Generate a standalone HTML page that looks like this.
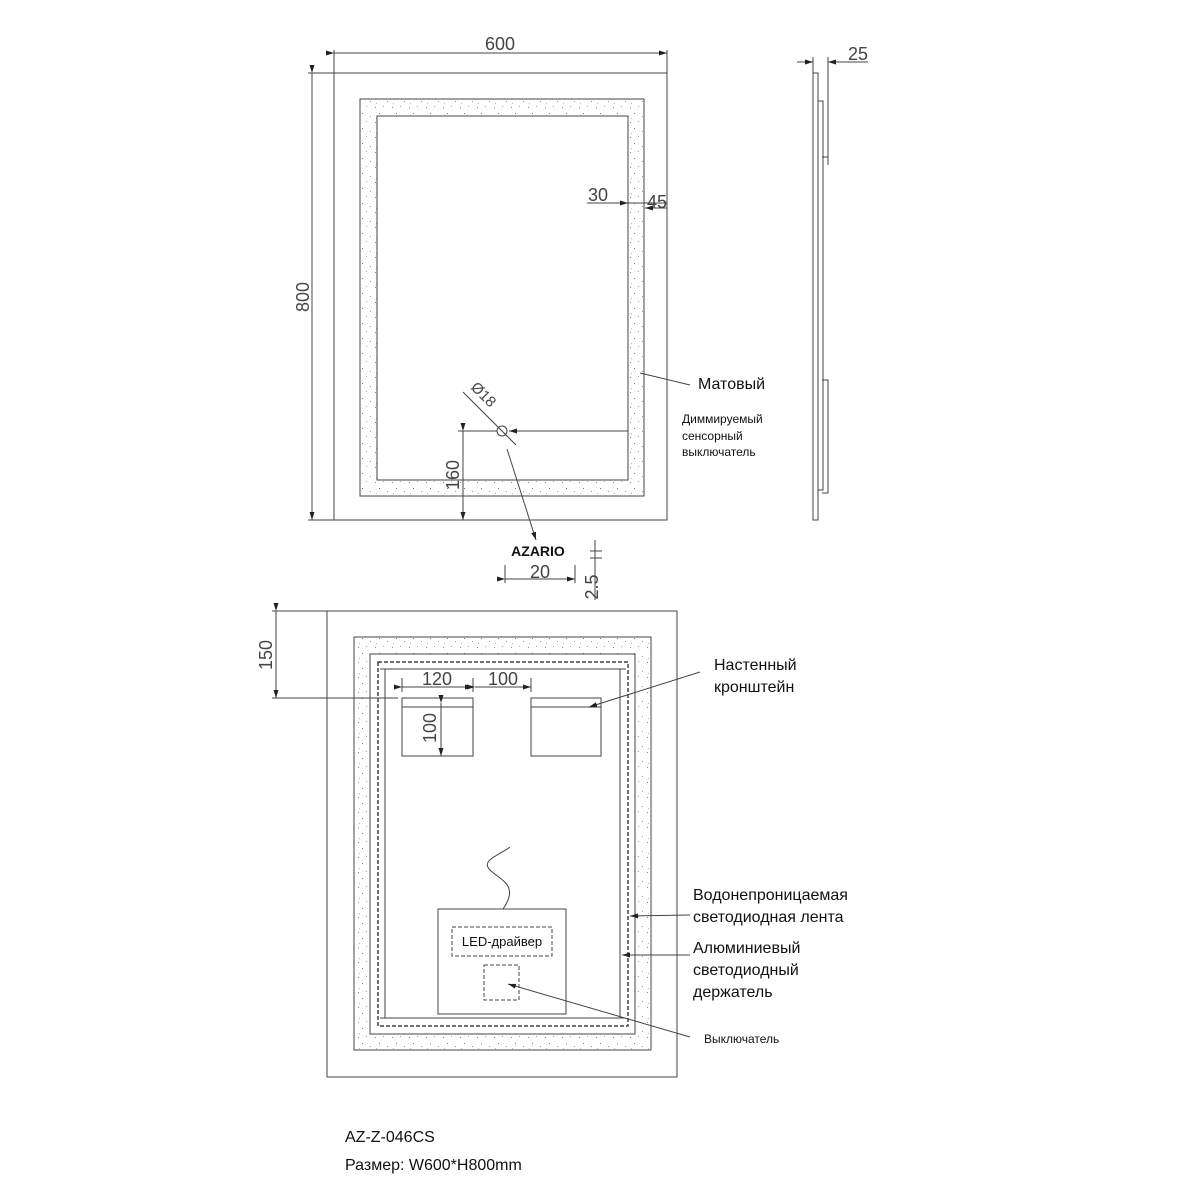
<!DOCTYPE html>
<html><head><meta charset="utf-8"><style>html,body{margin:0;background:#fff}svg{display:block}</style></head><body>
<svg width="1200" height="1200" viewBox="0 0 1200 1200" xmlns="http://www.w3.org/2000/svg" font-family="Liberation Sans, DejaVu Sans, sans-serif">
<defs>
<pattern id="st" width="17" height="15" patternUnits="userSpaceOnUse">
<rect x="1" y="2" width="1" height="1" fill="#888"/><rect x="9" y="1" width="1" height="1" fill="#aaa"/><rect x="5" y="8" width="1" height="1" fill="#777"/><rect x="13" y="11" width="1" height="1" fill="#999"/><rect x="2" y="13" width="1" height="1" fill="#bbb"/>
</pattern>
<marker id="a" markerWidth="8" markerHeight="6" refX="8" refY="3" orient="auto" markerUnits="userSpaceOnUse"><path d="M0,0.5 L8,3 L0,5.5z" fill="#222"/></marker>
</defs>
<g fill="none" stroke="#444" stroke-width="1">
<rect x="334" y="73" width="333" height="447"/>
<path d="M360,99H644V496H360Z M377,116V480H628V116Z" fill="url(#st)" fill-rule="evenodd"/>
<rect x="360" y="99" width="284" height="397"/>
<rect x="377" y="116" width="251" height="364"/>
<path d="M334,50V73 M667,50V73"/>
<line x1="334" y1="53" x2="667" y2="53" marker-start="url(#a)" marker-end="url(#a)"/>
<path d="M308,73H334 M308,520H334"/>
<line x1="312" y1="73" x2="312" y2="520" marker-start="url(#a)" marker-end="url(#a)"/>
<line x1="587" y1="203" x2="628" y2="203" marker-end="url(#a)"/>
<line x1="628" y1="203" x2="667" y2="203"/>
<line x1="667" y1="208" x2="645" y2="208" marker-end="url(#a)"/>
<line x1="640" y1="373" x2="690" y2="385"/>
<circle cx="502" cy="431" r="5"/>
<line x1="628" y1="431" x2="509" y2="431" marker-end="url(#a)"/>
<line x1="463" y1="392" x2="516" y2="445"/>
<line x1="458" y1="431" x2="497" y2="431"/>
<line x1="463" y1="431" x2="463" y2="520" marker-start="url(#a)" marker-end="url(#a)"/>
<line x1="507" y1="449" x2="536" y2="540" marker-end="url(#a)"/>
<path d="M505,565V583 M575,565V583"/>
<line x1="505" y1="579" x2="575" y2="579" marker-start="url(#a)" marker-end="url(#a)"/>
<path d="M595,540V600 M590,551H602 M590,558H602"/>
<rect x="813" y="73" width="5" height="447"/>
<rect x="818" y="101" width="5" height="389" stroke-dasharray="2,10"/>
<path d="M818,101H823V490H818"/>
<path d="M828,57V157 M813,57V73 M822,157H828V165"/>
<line x1="797" y1="62" x2="813" y2="62" marker-end="url(#a)"/>
<line x1="868" y1="62" x2="828" y2="62" marker-end="url(#a)"/>
<path d="M822,380H828V493H822"/>
<rect x="327" y="611" width="350" height="466"/>
<path d="M354,637H651V1050H354Z M370,654V1034H635V654Z" fill="url(#st)" fill-rule="evenodd"/>
<rect x="354" y="637" width="297" height="413"/>
<rect x="370" y="654" width="265" height="380"/>
<rect x="378" y="662" width="250" height="364" stroke-dasharray="4,2" stroke-width="1.5"/>
<path d="M380,669H626 M380,1018H626 M385,669V1018 M620,669V1018"/>
<path d="M272,611H327 M272,698H398"/>
<line x1="276" y1="611" x2="276" y2="698" marker-start="url(#a)" marker-end="url(#a)"/>
<rect x="402" y="698" width="71" height="58"/>
<rect x="531" y="698" width="70" height="58"/>
<path d="M402,707H473 M531,707H601"/>
<path d="M402,678V692 M473,678V692 M531,678V692"/>
<line x1="402" y1="687" x2="473" y2="687" marker-start="url(#a)" marker-end="url(#a)"/>
<line x1="475" y1="687" x2="531" y2="687" marker-start="url(#a)" marker-end="url(#a)"/>
<line x1="441" y1="703" x2="441" y2="756" marker-start="url(#a)" marker-end="url(#a)"/>
<line x1="700" y1="672" x2="589" y2="707" marker-end="url(#a)"/>
<rect x="438" y="909" width="128" height="105"/>
<rect x="452" y="927" width="100" height="29" stroke-dasharray="4,2"/>
<rect x="484" y="965" width="35" height="35" stroke-dasharray="4,2"/>
<path d="M503,909 C520,885 500,880 490,870 C480,860 500,855 510,847"/>
<line x1="690" y1="915" x2="630" y2="916" marker-end="url(#a)"/>
<line x1="690" y1="955" x2="622" y2="955" marker-end="url(#a)"/>
<line x1="690" y1="1037" x2="508" y2="984" marker-end="url(#a)"/>
</g>
<g fill="#444" font-size="18">
<text x="500" y="50" text-anchor="middle">600</text>
<text transform="translate(304,297) rotate(-90)" text-anchor="middle" dominant-baseline="middle">800</text>
<text x="598" y="201" text-anchor="middle">30</text>
<text x="657" y="208" text-anchor="middle">45</text>
<text x="858" y="60" text-anchor="middle">25</text>
<text transform="translate(480,398) rotate(45)" text-anchor="middle" font-size="15">Ø18</text>
<text transform="translate(454,475) rotate(-90)" text-anchor="middle" dominant-baseline="middle">160</text>
<text x="540" y="578" text-anchor="middle">20</text>
<text transform="translate(593,587) rotate(-90)" text-anchor="middle" dominant-baseline="middle">2.5</text>
<text transform="translate(267,655) rotate(-90)" text-anchor="middle" dominant-baseline="middle">150</text>
<text x="437" y="685" text-anchor="middle">120</text>
<text x="503" y="685" text-anchor="middle">100</text>
<text transform="translate(431,728) rotate(-90)" text-anchor="middle" dominant-baseline="middle">100</text>
</g>
<text x="538" y="556" text-anchor="middle" font-size="14" font-weight="bold" fill="#111">AZARIO</text>
<g fill="#111" font-size="16">
<text x="698" y="389">Матовый</text>
<text x="714" y="670">Настенный</text>
<text x="714" y="692">кронштейн</text>
<text x="693" y="900">Водонепроницаемая</text>
<text x="693" y="922">светодиодная лента</text>
<text x="693" y="953">Алюминиевый</text>
<text x="693" y="975">светодиодный</text>
<text x="693" y="997">держатель</text>
<text x="345" y="1142">AZ-Z-046CS</text>
<text x="345" y="1170">Размер: W600*H800mm</text>
</g>
<g fill="#111" font-size="12">
<text x="682" y="423">Диммируемый</text>
<text x="682" y="440">сенсорный</text>
<text x="682" y="456">выключатель</text>
<text x="704" y="1043">Выключатель</text>
<text x="502" y="946" text-anchor="middle" font-size="13">LED-драйвер</text>
</g>
</svg>
</body></html>
